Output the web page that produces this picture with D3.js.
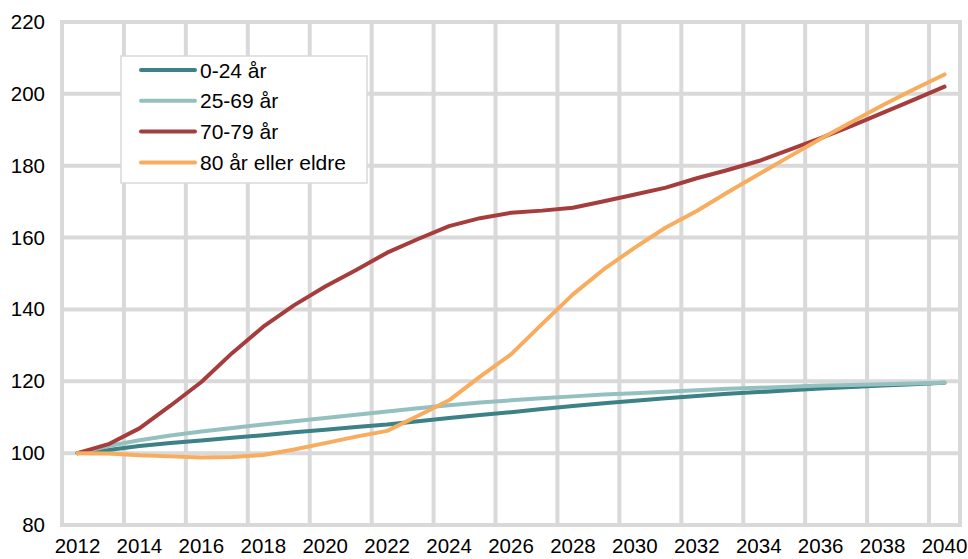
<!DOCTYPE html>
<html>
<head>
<meta charset="utf-8">
<script src="https://cdn.jsdelivr.net/npm/d3@7"></script>
<style>
  html, body { margin: 0; padding: 0; background: #fff; }
  svg text { font-family: "Liberation Sans", Arial, sans-serif; fill: #000; }
</style>
</head>
<body>
<svg id="chart" width="968" height="559"></svg>
<script>
// Population index (2012 = 100) by age group
const years = d3.range(2012, 2041);
const yTicks = [80, 100, 120, 140, 160, 180, 200, 220];
const xTickYears = d3.range(2012, 2041, 2);

const seriesNames = ["0-24 år", "25-69 år", "70-79 år", "80 år eller eldre"];
const seriesColors = ["#3b8186", "#95c0c0", "#a63d3d", "#f8ac5e"];

const age0to24 = [100, 100.9, 102.0, 102.8, 103.5, 104.3, 105.0, 105.8, 106.5, 107.3,
  108.0, 108.9, 109.8, 110.6, 111.4, 112.3, 113.1, 113.9, 114.6, 115.3,
  115.9, 116.5, 117.0, 117.5, 118.0, 118.4, 118.8, 119.2, 119.6];
const age25to69 = [100, 102.0, 103.6, 104.9, 106.0, 107.0, 108.0, 108.9, 109.8, 110.7,
  111.6, 112.5, 113.3, 114.1, 114.7, 115.3, 115.8, 116.3, 116.7, 117.1,
  117.5, 117.9, 118.2, 118.5, 118.8, 119.0, 119.2, 119.4, 119.6];
const age70to79 = [100, 102.5, 106.9, 113.2, 119.8, 127.9, 135.2, 141.2, 146.4, 151.0,
  155.8, 159.6, 163.2, 165.4, 166.9, 167.5, 168.3, 170.1, 172.0, 173.9,
  176.5, 178.8, 181.3, 184.5, 187.7, 191.1, 194.7, 198.3, 202.0];
const age80plus = [100, 99.9, 99.4, 99.1, 98.8, 98.9, 99.5, 101.0, 102.8, 104.6,
  106.2, 110.4, 114.7, 121.3, 127.5, 135.9, 144.2, 151.2, 157.2, 162.8,
  167.4, 172.6, 177.6, 182.6, 187.5, 192.2, 196.8, 201.2, 205.4];
const seriesValues = [age0to24, age25to69, age70to79, age80plus];

const svg = d3.select("#chart");
const plot = { left: 62, right: 960, top: 22, bottom: 525 };
const gridColor = "#d9d9d9";

const x = d3.scaleBand().domain(years).range([plot.left, plot.right]).paddingInner(0).paddingOuter(0);
const y = d3.scaleLinear().domain([80, 220]).range([plot.bottom, plot.top]);
const xc = d => x(d) + x.bandwidth() / 2;

// Grid: horizontal at each y tick, vertical at every second category boundary
const grid = svg.append("g");
grid.selectAll("line.h").data(yTicks).join("line")
  .attr("x1", plot.left).attr("x2", plot.right)
  .attr("y1", d => y(d)).attr("y2", d => y(d))
  .attr("stroke", gridColor).attr("stroke-width", 4);
const vBounds = d3.range(0, years.length + 1, 2).map(i => plot.left + i * x.step());
vBounds.push(plot.right);
grid.selectAll("line.v").data(vBounds).join("line")
  .attr("x1", d => d).attr("x2", d => d)
  .attr("y1", plot.top - 2).attr("y2", plot.bottom + 2)
  .attr("stroke", gridColor).attr("stroke-width", 4);

// Y axis labels
const yAxis = d3.axisLeft(y).tickValues(yTicks).tickSize(0).tickPadding(0);
const gy = svg.append("g").attr("transform", `translate(45,0)`).call(yAxis);
gy.select(".domain").remove();
gy.selectAll("text").attr("font-size", 20.5).attr("font-family", "Liberation Sans, Arial, sans-serif").attr("fill", "#000");

// X axis labels (band centres, every second year)
const xAxis = d3.axisBottom(x).tickValues(xTickYears).tickSize(0).tickPadding(0);
const gx = svg.append("g").attr("transform", `translate(0,${plot.bottom + 13})`).call(xAxis);
gx.select(".domain").remove();
gx.selectAll("text").attr("font-size", 20.5).attr("font-family", "Liberation Sans, Arial, sans-serif").attr("fill", "#000");

// Series lines
const line = d3.line().x((d, i) => xc(years[i])).y(d => y(d));
svg.append("g").selectAll("path").data(seriesValues).join("path")
  .attr("d", d => line(d))
  .attr("fill", "none")
  .attr("stroke", (d, i) => seriesColors[i])
  .attr("stroke-width", 4)
  .attr("stroke-linecap", "round")
  .attr("stroke-linejoin", "round");

// Legend
const legend = svg.append("g");
legend.append("rect")
  .attr("x", 121).attr("y", 56).attr("width", 246).attr("height", 127)
  .attr("fill", "#fff").attr("stroke", gridColor).attr("stroke-width", 1.5);
const items = legend.selectAll("g.item").data(seriesNames).join("g")
  .attr("transform", (d, i) => `translate(0,${70 + i * 30.8})`);
items.append("line")
  .attr("x1", 141).attr("x2", 195).attr("y1", 0).attr("y2", 0)
  .attr("stroke", (d, i) => seriesColors[i]).attr("stroke-width", 4)
  .attr("stroke-linecap", "round");
items.append("text")
  .attr("x", 200).attr("y", 0).attr("dy", "0.36em")
  .attr("font-size", 21)
  .text(d => d);
</script>
</body>
</html>
